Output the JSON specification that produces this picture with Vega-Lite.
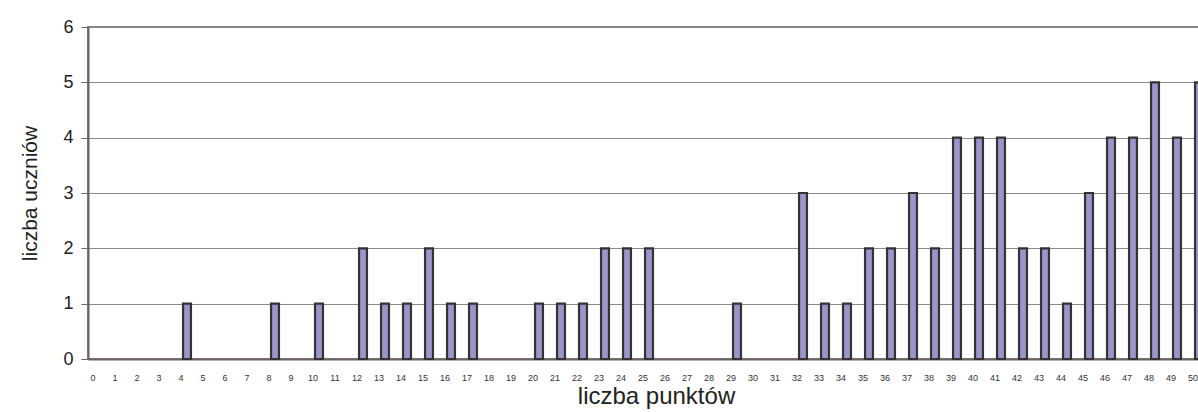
{
  "$schema": "https://vega.github.io/schema/vega-lite/v6.json",
  "autosize": "none",
  "padding": {"left": 88, "top": 27, "right": 0, "bottom": 53},
  "width": 1122,
  "height": 332,
  "background": "white",
  "config": {
    "font": "Liberation Sans",
    "view": {"stroke": "#8c807c", "strokeWidth": 2}
  },
  "data": {
    "values": [
      {"p": "0", "n": 0}, {"p": "1", "n": 0}, {"p": "2", "n": 0}, {"p": "3", "n": 0},
      {"p": "4", "n": 1}, {"p": "5", "n": 0}, {"p": "6", "n": 0}, {"p": "7", "n": 0},
      {"p": "8", "n": 1}, {"p": "9", "n": 0}, {"p": "10", "n": 1}, {"p": "11", "n": 0},
      {"p": "12", "n": 2}, {"p": "13", "n": 1}, {"p": "14", "n": 1}, {"p": "15", "n": 2},
      {"p": "16", "n": 1}, {"p": "17", "n": 1}, {"p": "18", "n": 0}, {"p": "19", "n": 0},
      {"p": "20", "n": 1}, {"p": "21", "n": 1}, {"p": "22", "n": 1}, {"p": "23", "n": 2},
      {"p": "24", "n": 2}, {"p": "25", "n": 2}, {"p": "26", "n": 0}, {"p": "27", "n": 0},
      {"p": "28", "n": 0}, {"p": "29", "n": 1}, {"p": "30", "n": 0}, {"p": "31", "n": 0},
      {"p": "32", "n": 3}, {"p": "33", "n": 1}, {"p": "34", "n": 1}, {"p": "35", "n": 2},
      {"p": "36", "n": 2}, {"p": "37", "n": 3}, {"p": "38", "n": 2}, {"p": "39", "n": 4},
      {"p": "40", "n": 4}, {"p": "41", "n": 4}, {"p": "42", "n": 2}, {"p": "43", "n": 2},
      {"p": "44", "n": 1}, {"p": "45", "n": 3}, {"p": "46", "n": 4}, {"p": "47", "n": 4},
      {"p": "48", "n": 5}, {"p": "49", "n": 4}, {"p": "50", "n": 5}
    ]
  },
  "mark": {"type": "bar", "fill": "#9c95cc", "strokeWidth": 2.2},
  "encoding": {
    "x": {
      "field": "p",
      "type": "ordinal",
      "sort": null,
      "scale": {"paddingInner": 0.64, "paddingOuter": 0.32},
      "axis": {
        "title": "liczba punktów",
        "titleFontSize": 24,
        "titleFontWeight": "normal",
        "titleColor": "#222",
        "titlePadding": 2,
        "titleX": 568,
        "labelAngle": 0,
        "labelFontSize": 9,
        "labelColor": "#333",
        "labelPadding": 14,
        "labelOffset": -6,
        "ticks": false,
        "domainColor": "#6e6262",
        "domainWidth": 2,
        "grid": false
      }
    },
    "y": {
      "field": "n",
      "type": "quantitative",
      "scale": {"domain": [0, 6], "nice": false},
      "axis": {
        "title": "liczba uczniów",
        "titleFontSize": 21,
        "titleFontWeight": "normal",
        "titleColor": "#222",
        "titlePadding": 22,
        "values": [0, 1, 2, 3, 4, 5, 6],
        "labelFontSize": 18,
        "labelColor": "#222",
        "labelPadding": 8,
        "tickSize": 7,
        "tickColor": "#666",
        "domainColor": "#6e6262",
        "domainWidth": 2,
        "grid": true,
        "gridColor": "#8a8a8a",
        "gridWidth": 1
      }
    },
    "stroke": {
      "condition": {"test": "datum.n == 0", "value": "transparent"},
      "value": "#333333"
    }
  }
}
